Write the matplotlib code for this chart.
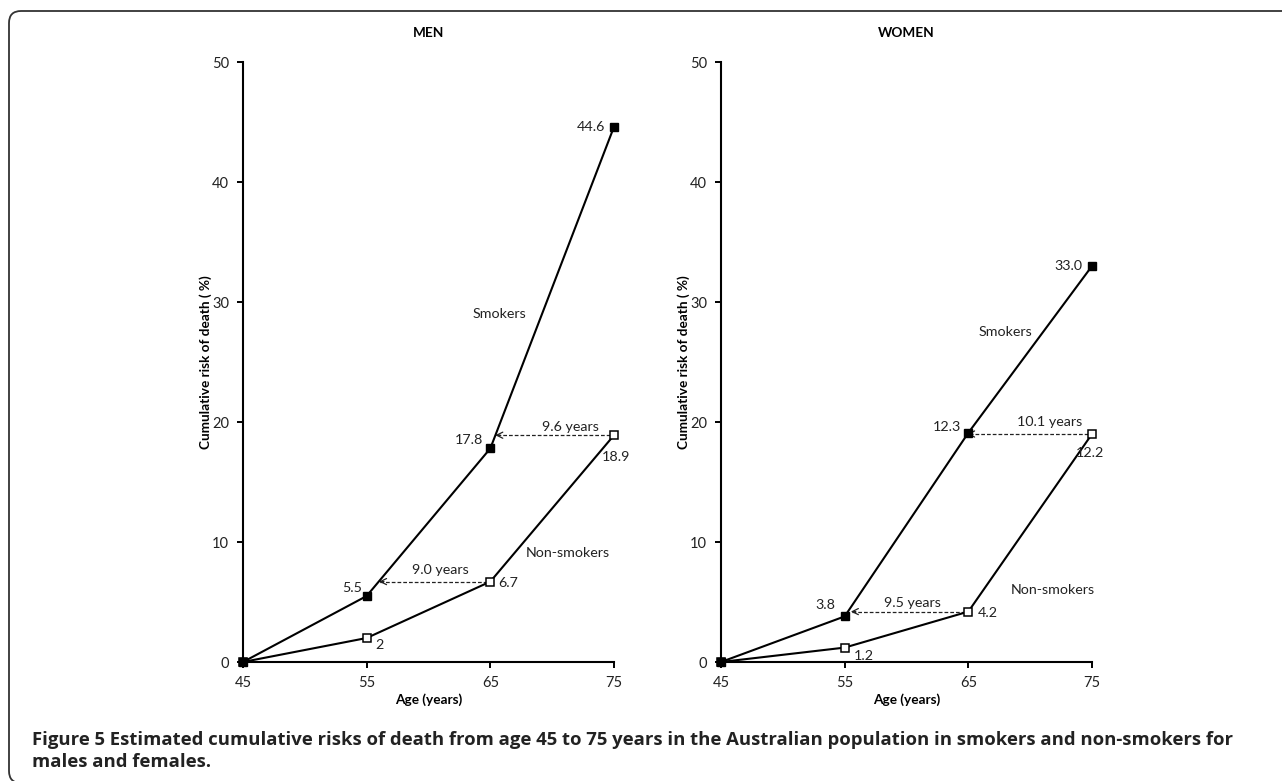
import matplotlib
matplotlib.use('Agg')
import matplotlib.pyplot as plt
from matplotlib.patches import FancyBboxPatch
from matplotlib.transforms import IdentityTransform

plt.rcParams['font.family'] = ['Lato', 'DejaVu Sans']

# ----------------------------------------
# DATA
ages = [45, 55, 65, 75]

men_smokers = [0, 5.5, 17.8, 44.6]
men_nonsmokers = [0, 2.0, 6.7, 18.9]
men_smokers_labels = ['', '5.5', '17.8', '44.6']
men_nonsmokers_labels = ['', '2', '6.7', '18.9']
men_gaps = [9.0, 9.6]          # years gained, arrows at age 65 and 75
men_gap_labels = ['9.0 years', '9.6 years']

# women values as drawn in the chart (12.3 / 12.2 points sit near 19 on the axis)
women_smokers = [0, 3.8, 19.1, 33.0]
women_nonsmokers = [0, 1.2, 4.2, 19.0]
women_smokers_labels = ['', '3.8', '12.3', '33.0']
women_nonsmokers_labels = ['', '1.2', '4.2', '12.2']
women_gaps = [9.5, 10.1]
women_gap_labels = ['9.5 years', '10.1 years']

# ----------------------------------------
# LAYOUT
smk_offsets = [(0, 0), (-5, 8), (-7, 8), (-9, 0)]
men_ns_offsets = [(0, 0), (9, -7), (8, -1), (2, -22)]
women_smk_offsets = [(0, 0), (-9, 11), (-7, 6), (-10, 0)]
women_ns_offsets = [(0, 0), (9, -8), (9, -1), (-2, -19)]
men_gap_pos = [(61.0, 7.7), (71.5, 19.6)]
women_gap_pos = [(60.5, 4.9), (71.6, 20.0)]
men_series_pos = [(65.7, 29.0), (71.3, 9.1)]
women_series_pos = [(68.0, 27.5), (71.8, 6.0)]

fs = 10.3
txt_col = '#222222'
fig = plt.figure(figsize=(12.82, 7.81), dpi=100)


def panel(rect, title, smk, ns, smk_lab, ns_lab, smk_off, ns_off,
          gaps, gap_lab, gap_pos, series_pos):
    ax = fig.add_axes(rect)
    ax.plot(ages, ns, color='black', lw=1.5, marker='s', ms=5.6,
            mfc='white', mec='black', mew=1.1, clip_on=False, zorder=3)
    ax.plot(ages, smk, color='black', lw=1.5, marker='s', ms=5.6,
            mfc='black', mec='black', clip_on=False, zorder=4)
    for i in range(len(ages)):
        if smk_lab[i]:
            ax.annotate(smk_lab[i], (ages[i], smk[i]), xytext=smk_off[i],
                        textcoords='offset pixels', ha='right', va='center',
                        fontsize=fs, color=txt_col)
        if ns_lab[i]:
            ha = 'left' if ns_off[i][1] > -15 else 'center'
            ax.annotate(ns_lab[i], (ages[i], ns[i]), xytext=ns_off[i],
                        textcoords='offset pixels', ha=ha, va='center',
                        fontsize=fs, color=txt_col)
    # dashed arrows showing the age shift
    for k, i in enumerate([2, 3]):
        x0, y0 = ages[i], ns[i]
        x1 = ages[i] - gaps[k]
        ax.plot([x0 - 0.3, x1], [y0, y0], color=txt_col, lw=0.9,
                ls=(0, (3, 1.6)), zorder=2)
        ax.annotate('', xy=(x1, y0), xytext=(x1 + 0.4, y0),
                    arrowprops=dict(arrowstyle='->', lw=0.9, color=txt_col,
                                    shrinkA=0, shrinkB=0, mutation_scale=11))
        ax.text(gap_pos[k][0], gap_pos[k][1], gap_lab[k], ha='center',
                va='center', fontsize=fs, color=txt_col)
    ax.text(series_pos[0][0], series_pos[0][1], 'Smokers', ha='center',
            va='center', fontsize=fs, color=txt_col)
    ax.text(series_pos[1][0], series_pos[1][1], 'Non-smokers', ha='center',
            va='center', fontsize=fs, color=txt_col)

    ax.set_xlim(45, 75)
    ax.set_ylim(0, 50)
    ax.set_xticks(ages)
    ax.set_yticks([0, 10, 20, 30, 40, 50])
    for s in ['top', 'right']:
        ax.spines[s].set_visible(False)
    for s in ['left', 'bottom']:
        ax.spines[s].set_linewidth(1.5)
    ax.tick_params(direction='out', length=4, width=1.4, labelsize=10.5,
                   labelcolor=txt_col, pad=6)
    ax.set_xlabel('Age (years)', fontsize=9.8, fontweight='bold')
    ax.set_ylabel('Cumulative risk of death ( %)', fontsize=9.8, fontweight='bold')
    ax.xaxis.set_label_coords(0.5, -0.052)
    ax.yaxis.set_label_coords(-0.083, 0.5)
    ax.set_title(title, fontsize=9.8, fontweight='bold', y=1.028)
    return ax


panel([243 / 1282, 119 / 781, 371 / 1282, 600 / 781], 'MEN',
      men_smokers, men_nonsmokers, men_smokers_labels, men_nonsmokers_labels,
      smk_offsets, men_ns_offsets, men_gaps, men_gap_labels, men_gap_pos,
      men_series_pos)
panel([721 / 1282, 119 / 781, 371 / 1282, 600 / 781], 'WOMEN',
      women_smokers, women_nonsmokers, women_smokers_labels,
      women_nonsmokers_labels, women_smk_offsets, women_ns_offsets,
      women_gaps, women_gap_labels, women_gap_pos, women_series_pos)

# rounded frame around figure and caption
frame = FancyBboxPatch((9, -2), 1300, 772, boxstyle='round,pad=0,rounding_size=12',
                       transform=IdentityTransform(), fill=False,
                       edgecolor='#333333', lw=1.3)
fig.add_artist(frame)

cap_font = ['Open Sans', 'DejaVu Sans']
fig.text(32 / 1282, 1 - 740 / 781,
         'Figure 5 Estimated cumulative risks of death from age 45 to 75 years in the '
         'Australian population in smokers and non-smokers for',
         fontsize=13.3, fontweight='bold', color=txt_col, va='center',
         family=cap_font)
fig.text(32 / 1282, 1 - 762 / 781, 'males and females.',
         fontsize=13.3, fontweight='bold', color=txt_col, va='center',
         family=cap_font)

fig.savefig('out.png', dpi=100)
